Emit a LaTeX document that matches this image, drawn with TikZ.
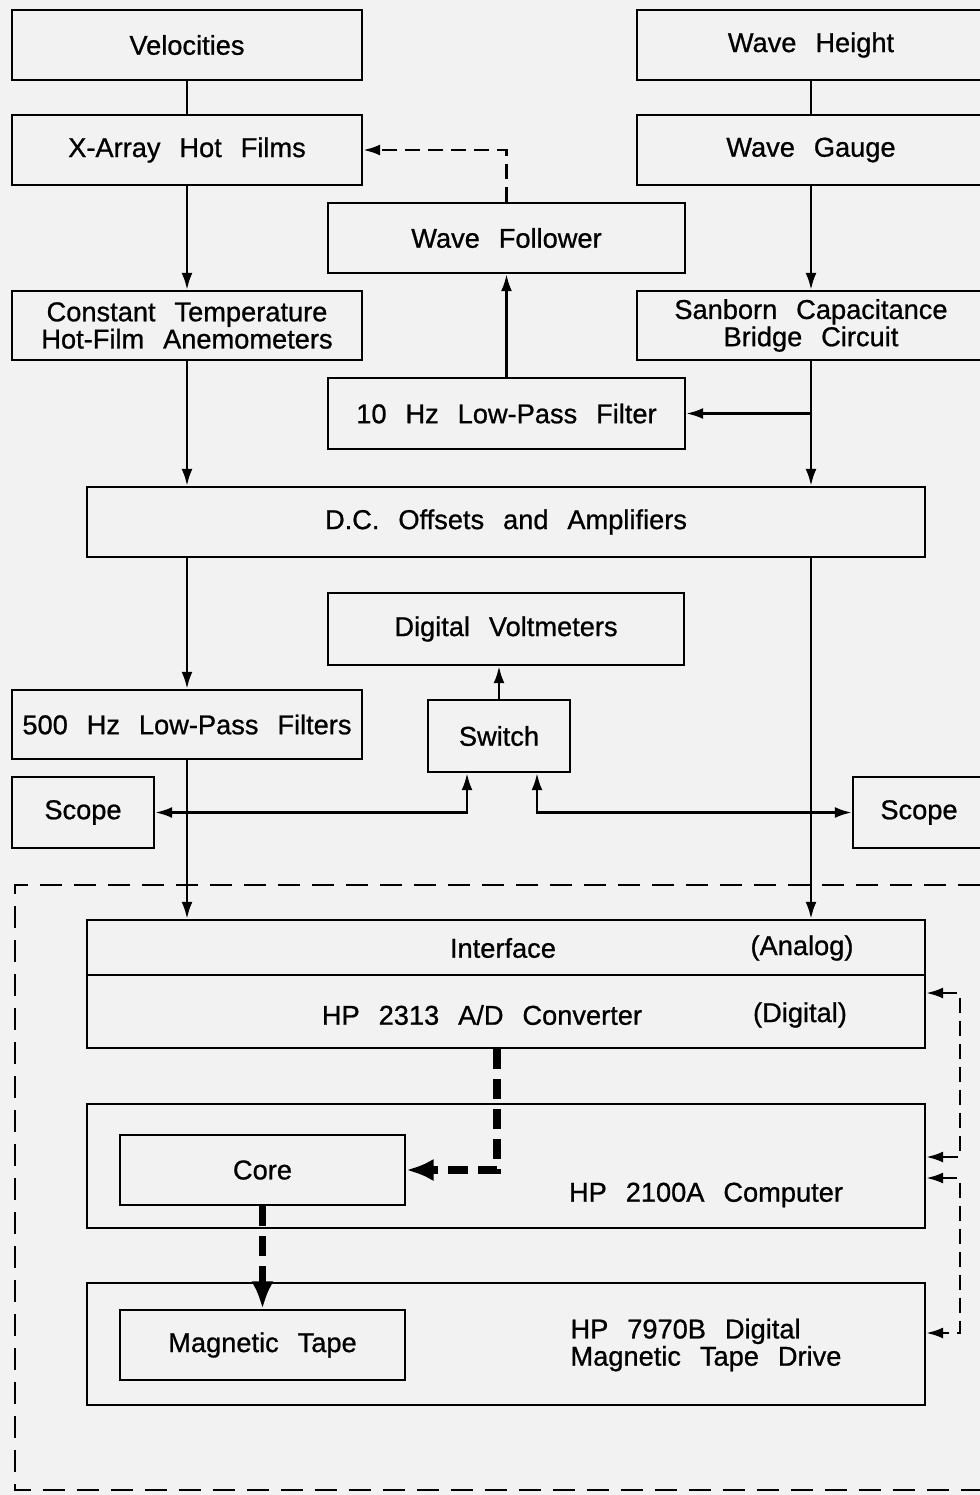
\documentclass[tikz,border=0pt]{standalone}
\usepackage{fontspec}
\setmainfont[WordSpace=2.5,FakeBold=0.8]{Liberation Sans}
\usetikzlibrary{arrows.meta}
\usetikzlibrary{calc}

\begin{document}
\begin{tikzpicture}[x=0.02cm,y=-0.02cm,>={Latex[length=0.34cm,width=0.22cm]},
  font=\fontsize{15.5}{15.5}\selectfont,
  box/.style={rectangle,draw,line width=1.4pt,inner sep=0pt,align=center},
  link/.style={line width=1.4pt},
  dashlink/.style={line width=1.4pt,dash pattern=on 0.3cm off 0.16cm},
  bus/.style={line width=4.5pt,dash pattern=on 0.4cm off 0.2cm,
    -{Latex[length=0.55cm,width=0.45cm]}},
  frame/.style={line width=1.6pt,dash pattern=on 0.44cm off 0.24cm}]

% background
\useasboundingbox (0,0) rectangle (980,1495);
\clip (0,0) rectangle (980,1495);
\fill[black!5] (0,0) rectangle (980,1495);

% velocity channel
\node (vel) at (187,45) [box,minimum width=7cm,minimum height=1.4cm] {Velocities};
\node (xarray) at (187,150) [box,minimum width=7cm,minimum height=1.4cm] {X-Array Hot Films};
\node (cta) at (187,325.5) [box,minimum width=7cm,minimum height=1.38cm] {Constant Temperature\\Hot-Film Anemometers};

% wave channel
\node (height) at (811,45) [box,minimum width=6.96cm,minimum height=1.4cm] {Wave Height};
\node (gauge) at (811,150) [box,minimum width=6.96cm,minimum height=1.4cm] {Wave Gauge};
\node (sanborn) at (811,325.5) [box,minimum width=6.96cm,minimum height=1.38cm] {Sanborn Capacitance\\Bridge Circuit};

% follower loop
\node (follower) at (506.5,238) [box,minimum width=7.14cm,minimum height=1.4cm] {Wave Follower};
\node (lpften) at (506.5,413.5) [box,minimum width=7.14cm,minimum height=1.42cm] {10 Hz Low-Pass Filter};

% conditioning
\node (dc) at (506,522) [box,minimum width=16.76cm,minimum height=1.4cm] {D.C. Offsets and Amplifiers};
\node (dvm) at (506,629) [box,minimum width=7.12cm,minimum height=1.44cm] {Digital Voltmeters};
\node (lpffive) at (187,724.5) [box,minimum width=7cm,minimum height=1.38cm] {500 Hz Low-Pass Filters};
\node (switch) at (499,736) [box,minimum width=2.84cm,minimum height=1.44cm] {Switch};
\node (scopel) at (83,812.5) [box,minimum width=2.84cm,minimum height=1.42cm] {Scope};
\node (scoper) at (919,812.5) [box,minimum width=2.64cm,minimum height=1.42cm] {Scope};

% data system
\node (adc) at (506,984) [box,minimum width=16.76cm,minimum height=2.56cm] {};
\draw[link] (adc.west |- 0,975) -- (adc.east |- 0,975);
\node (iftext) at (503,948) {Interface};
\node (analog) at (802,948) {(Analog)};
\node (adtext) at (482,1015) {HP 2313 A/D Converter};
\node (digital) at (800,1015) {(Digital)};
\node (comp) at (506,1166) [box,minimum width=16.76cm,minimum height=2.48cm] {};
\node (comptext) at (706,1195) {HP 2100A Computer};
\node (core) at (262.5,1170) [box,minimum width=5.7cm,minimum height=1.4cm] {Core};
\node (drive) at (506,1344) [box,minimum width=16.76cm,minimum height=2.44cm] {};
\node (drivetext) at (706,1345) [align=left] {HP 7970B Digital\\Magnetic Tape Drive};
\node (tape) at (262.5,1345) [box,minimum width=5.7cm,minimum height=1.4cm] {Magnetic Tape};

% signal paths
\draw[link] (vel) -- (xarray);
\draw[link] (height) -- (gauge);
\draw[link,->] (xarray) -- (cta);
\draw[link,->] (gauge) -- (sanborn);
\draw[dashlink,->] (follower.north) |- (xarray.east);
\draw[link,->] (lpften) -- (follower);
\coordinate (tap) at (sanborn.south |- lpften.east);
\draw[link,->] (tap) -- (lpften.east);
\draw[link,->] (sanborn.south) -- (sanborn.south |- dc.north);
\draw[link,->] (cta) -- (cta |- dc.north);
\draw[link,->] (lpffive |- dc.south) -- (lpffive);
\draw[link,->] (lpffive) -- (lpffive |- adc.north);
\draw[link,->] (sanborn.south |- dc.south) -- (sanborn.south |- adc.north);
\draw[link,->] (switch) -- (switch |- dvm.south);

% scope and switch taps
\coordinate (jl) at (lpffive.south |- scopel.east);
\coordinate (jr) at (sanborn.south |- scoper.west);
\draw[link,->] (jl) -- (scopel);
\draw[link,->] (jl) -| ([xshift=-0.64cm]switch.south);
\draw[link,->] (jr) -- (scoper);
\draw[link,->] (jr) -| ([xshift=0.76cm]switch.south);

% digital transfers
\draw[bus] ([xshift=-0.18cm]adc.south) |- (core.east);
\draw[bus] (core) -- (tape);
\draw[dashlink,<->] (adc.east |- 0,993) -- (960,993) -- (960,1157) -- (comp.east |- 0,1157);
\draw[dashlink,<->] (comp.east |- 0,1178) -- (960,1178) -- (960,1333) -- (drive.east |- 0,1333);

% computer system boundary
\draw[frame] (980,885) -- (15,885) -- (15,1490) -- (980,1490);

\end{tikzpicture}
\end{document}
